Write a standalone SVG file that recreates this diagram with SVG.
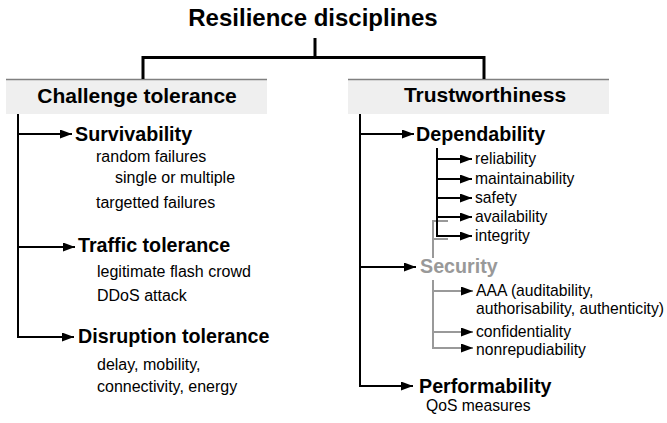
<svg xmlns="http://www.w3.org/2000/svg" width="667" height="423" viewBox="0 0 667 423">
<style>
text{font-family:"Liberation Sans",Arial,sans-serif;fill:#000}
.title{font-size:24px;font-weight:bold}
.head{font-size:21px;font-weight:bold}
.sub{font-size:19.7px;font-weight:bold}
.sm{font-size:15.7px}
.sml{font-size:16px}
.gray{fill:#999}
.hdr{fill:#efefef}
.topline{stroke:#808080;stroke-width:1.5}
.c3{stroke:#000;stroke-width:3;fill:none}
.c2{stroke:#000;stroke-width:2;fill:none}
.cg{stroke:#999;stroke-width:2;fill:none}
</style>
<defs>
<marker id="ah" markerUnits="userSpaceOnUse" markerWidth="12" markerHeight="9" refX="12" refY="4.5" orient="auto">
<polygon points="0,0 12,4.5 0,9" fill="#000"/>
</marker>
<marker id="ahs" markerUnits="userSpaceOnUse" markerWidth="12" markerHeight="9" refX="12" refY="4.5" orient="auto">
<polygon points="0,0 12,4.5 0,9" fill="#000"/>
</marker>
</defs>
<g id="title"><text class="title" x="313" y="26" text-anchor="middle">Resilience disciplines</text></g>
<g id="challenge-tolerance">
<rect class="hdr" x="6" y="79" width="261" height="35"/>
<line class="topline" x1="6" y1="79.5" x2="267" y2="79.5"/>
<text class="head" x="137" y="103" text-anchor="middle">Challenge tolerance</text>
</g>
<g id="trustworthiness">
<rect class="hdr" x="348" y="79" width="261" height="35"/>
<line class="topline" x1="348" y1="79.5" x2="609" y2="79.5"/>
<text class="head" x="485" y="102" text-anchor="middle">Trustworthiness</text>
</g>
<g id="survivability">
<text class="sub" x="75" y="141">Survivability</text>
<text class="sml" x="96" y="162">random failures</text>
<text class="sml" x="115" y="183">single or multiple</text>
<text class="sml" x="96" y="208">targetted failures</text>
</g>
<g id="traffic-tolerance">
<text class="sub" x="78" y="252">Traffic tolerance</text>
<text class="sml" x="97" y="277">legitimate flash crowd</text>
<text class="sml" x="97" y="301">DDoS attack</text>
</g>
<g id="disruption-tolerance">
<text class="sub" x="78" y="343">Disruption tolerance</text>
<text class="sml" x="97" y="370">delay, mobility,</text>
<text class="sml" x="97" y="392">connectivity, energy</text>
</g>
<g id="dependability">
<text class="sub" x="416" y="141">Dependability</text>
<text class="sm" x="475" y="164">reliability</text>
<text class="sm" x="475" y="184">maintainability</text>
<text class="sm" x="475" y="203">safety</text>
<text class="sm" x="475" y="222">availability</text>
<text class="sm" x="475" y="241">integrity</text>
</g>
<g id="security">
<text class="sub gray" x="420" y="273">Security</text>
<text class="sm" x="476" y="296">AAA (auditability,</text>
<text class="sm" x="476" y="314">authorisability, authenticity)</text>
<text class="sm" x="476" y="337">confidentiality</text>
<text class="sm" x="476" y="355">nonrepudiability</text>
</g>
<g id="performability">
<text class="sub" x="419" y="393">Performability</text>
<text class="sm" x="426" y="411">QoS measures</text>
</g>
<g id="connectors">
<path class="c3" d="M315 38 V57.5 M143 79 V57.5 H484 V79"/>
<path class="c2" d="M18 114 V337 H74" marker-end="url(#ah)"/>
<path class="c2" d="M18 134 H72" marker-end="url(#ah)"/>
<path class="c2" d="M18 247 H75" marker-end="url(#ah)"/>
<path class="c2" d="M360 114 V386 H413" marker-end="url(#ah)"/>
<path class="c2" d="M360 134 H414" marker-end="url(#ah)"/>
<path class="c2" d="M360 267 H416" marker-end="url(#ah)"/>
<path class="cg" d="M448 221 H433 V258 M433 239 H448"/>
<path class="c2" d="M437 148 V236 H472" marker-end="url(#ahs)"/>
<path class="c2" d="M437 159 H472" marker-end="url(#ahs)"/>
<path class="c2" d="M437 179 H472" marker-end="url(#ahs)"/>
<path class="c2" d="M437 198 H472" marker-end="url(#ahs)"/>
<path class="c2" d="M437 217 H472" marker-end="url(#ahs)"/>
<path class="cg" d="M433 280 V348 H473" marker-end="url(#ahs)"/>
<path class="cg" d="M433 291 H473" marker-end="url(#ahs)"/>
<path class="cg" d="M433 332 H473" marker-end="url(#ahs)"/>
</g>
</svg>
